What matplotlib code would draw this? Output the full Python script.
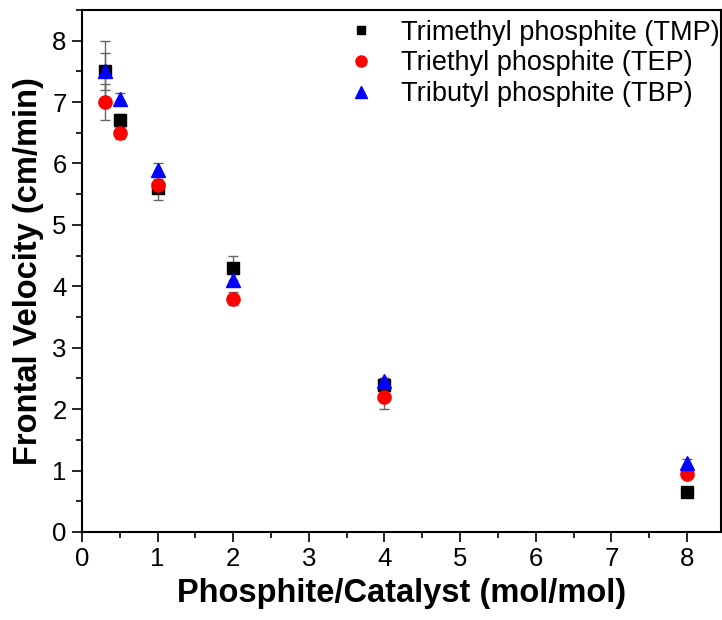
import matplotlib
matplotlib.use("Agg")
import matplotlib.pyplot as plt
from matplotlib.lines import Line2D
from matplotlib.ticker import MultipleLocator

plt.rcParams["font.family"] = ["Liberation Sans", "DejaVu Sans"]

ratio = [0.3, 0.5, 1, 2, 4, 8]

tmp_v = [7.5, 6.7, 5.6, 4.3, 2.4, 0.65]
tmp_err = [0.5, 0.1, 0.2, 0.2, 0.1, 0.05]

tep_v = [7.0, 6.5, 5.65, 3.8, 2.2, 0.95]
tep_err = [0.3, 0.1, 0.1, 0.1, 0.2, 0.05]

tbp_v = [7.5, 7.05, 5.9, 4.1, 2.45, 1.13]
tbp_err = [0.3, 0.1, 0.1, 0.1, 0.05, 0.05]

series = [
    ("Trimethyl phosphite (TMP)", tmp_v, tmp_err, "s", "black", 8.5, 6),
    ("Triethyl phosphite (TEP)", tep_v, tep_err, "o", "red", 9.5, 8),
    ("Tributyl phosphite (TBP)", tbp_v, tbp_err, "^", "blue", 10.5, 8.5),
]

fig = plt.figure(figsize=(7.22, 6.2), dpi=100)
ax = fig.add_axes([0.1136, 0.142, 0.885, 0.842])

handles = []
for label, v, err, m, c, ms, lms in series:
    ax.errorbar(ratio, v, yerr=err, fmt=m, color=c, ms=ms, mec=c,
                ecolor="#666666", elinewidth=1, capsize=3.5, capthick=1,
                zorder=3)
    handles.append(Line2D([], [], ls="none", marker=m, color=c, mec=c,
                          ms=lms, label=label))

ax.set_xlim(0, 8.45)
ax.set_ylim(0, 8.5)
ax.xaxis.set_major_locator(MultipleLocator(1))
ax.xaxis.set_minor_locator(MultipleLocator(0.5))
ax.yaxis.set_major_locator(MultipleLocator(1))
ax.yaxis.set_minor_locator(MultipleLocator(0.5))
ax.tick_params(which="major", direction="out", length=7, width=1.2, labelsize=18.5, pad=4)
ax.tick_params(which="minor", direction="out", length=4, width=1.2)
for s in ax.spines.values():
    s.set_linewidth(1.5)

ax.set_xlabel("Phosphite/Catalyst (mol/mol)", fontsize=23.5, fontweight="bold", labelpad=5)
ax.set_ylabel("Frontal Velocity (cm/min)", fontsize=23.5, fontweight="bold", labelpad=6)

ax.legend(handles=handles, loc="upper right", bbox_to_anchor=(1.007, 0.992),
          frameon=False, fontsize=19.5, handletextpad=0.8, borderaxespad=0,
          borderpad=0.2, labelspacing=0.18, handlelength=1.4)

fig.savefig("out.png", dpi=100)
